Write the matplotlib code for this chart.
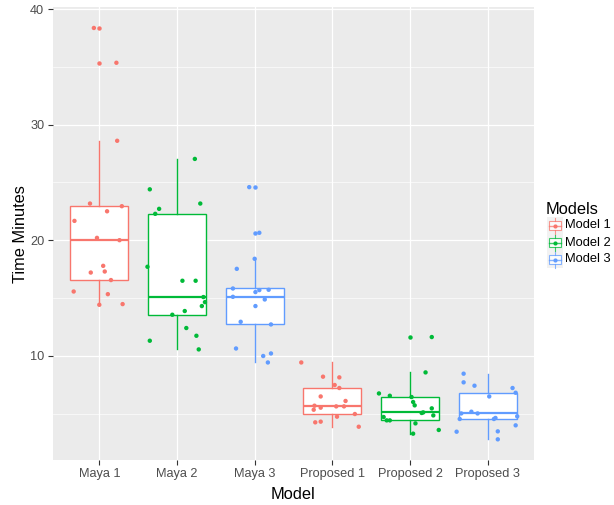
import matplotlib
matplotlib.use('Agg')
import matplotlib.pyplot as plt
from matplotlib.patches import Rectangle
from matplotlib.lines import Line2D
from matplotlib.ticker import FixedLocator

plt.rcParams['font.family'] = ['Liberation Sans', 'DejaVu Sans']

categories = ['Maya 1', 'Maya 2', 'Maya 3', 'Proposed 1', 'Proposed 2', 'Proposed 3']
group_model = ['Model 1', 'Model 2', 'Model 3', 'Model 1', 'Model 2', 'Model 3']
models = ['Model 1', 'Model 2', 'Model 3']
model_colors = ['#F8766D', '#00BA38', '#619CFF']

maya1 = [38.36, 35.35, 28.60, 23.17, 22.94, 22.50, 21.67, 20.20, 20.00, 17.78,
         17.20, 17.29, 16.55, 15.56, 15.33, 14.41, 14.47]
maya2 = [27.03, 24.40, 23.17, 22.71, 22.28, 17.70, 16.49, 16.49, 15.08, 14.64,
         14.30, 13.55, 13.87, 12.40, 11.73, 11.30, 10.55]
maya3 = [24.59, 20.64, 18.39, 17.52, 15.82, 15.68, 15.71, 15.51, 15.10, 14.87,
         14.30, 12.94, 12.71, 10.63, 10.20, 9.98, 9.42]
proposed1 = [9.42, 8.19, 8.13, 7.47, 7.21, 6.48, 6.09, 5.68, 5.51, 5.62,
             5.62, 5.33, 4.96, 4.73, 4.24, 4.30, 3.86]
proposed2 = [11.62, 8.56, 6.74, 6.54, 6.43, 6.00, 5.71, 5.45, 5.05, 5.10,
             4.84, 4.70, 4.41, 4.41, 4.15, 3.58, 3.26]
proposed3 = [8.45, 7.70, 7.41, 7.21, 6.80, 6.48, 5.01, 5.16, 5.01, 4.76,
             4.53, 4.53, 4.62, 3.98, 3.43, 3.46, 2.77]
series = [maya1, maya2, maya3, proposed1, proposed2, proposed3]

# horizontal jitter offsets (category units), as seen in the picture
jit1 = [-0.07, 0.22, 0.23, -0.12, 0.29, 0.10, -0.32, -0.03, 0.26, 0.05,
        -0.11, 0.07, 0.15, -0.33, 0.11, 0.00, 0.30]
jit2 = [0.23, -0.35, 0.30, -0.23, -0.28, -0.38, 0.07, 0.24, 0.34, 0.36,
        0.32, -0.06, 0.10, 0.12, 0.25, -0.35, 0.28]
jit3 = [-0.07, 0.06, 0.00, -0.23, -0.28, 0.06, 0.18, 0.01, -0.28, 0.13,
        0.01, -0.18, 0.21, -0.24, 0.21, 0.11, 0.17]
jit4 = [-0.40, -0.12, 0.09, 0.03, 0.09, -0.15, 0.17, -0.23, -0.15, 0.05,
        0.15, -0.24, 0.29, 0.06, -0.22, -0.15, 0.34]
jit5 = [0.28, 0.20, -0.40, -0.26, 0.02, 0.04, 0.06, 0.28, 0.15, 0.17,
        0.30, -0.34, -0.30, -0.26, 0.07, 0.37, 0.04]
jit6 = [-0.31, -0.31, -0.17, 0.32, 0.36, 0.02, -0.34, -0.21, -0.13, 0.38,
        -0.36, 0.08, 0.10, 0.36, -0.40, 0.13, 0.13]
jitters = [jit1, jit2, jit3, jit4, jit5, jit6]

W, H = 614, 505
fig = plt.figure(figsize=(W / 100, H / 100), dpi=100)
ax = fig.add_axes([52.7 / W, 1 - 459.9 / H, (534.3 - 52.7) / W, (459.9 - 7.4) / H])
ax.set_facecolor('#EBEBEB')
for s in ax.spines.values():
    s.set_visible(False)

positions = list(range(1, len(categories) + 1))
cmap = dict(zip(models, model_colors))

for i, (vals, jit) in enumerate(zip(series, jitters)):
    col = cmap[group_model[i]]
    ax.boxplot([vals], positions=[positions[i]], widths=0.75, whis=1.5,
               patch_artist=True, showcaps=False, manage_ticks=False,
               boxprops=dict(facecolor='white', edgecolor=col, linewidth=1.0),
               medianprops=dict(color=col, linewidth=1.6),
               whiskerprops=dict(color=col, linewidth=1.0),
               flierprops=dict(marker='o', markerfacecolor=col, markeredgewidth=0,
                               markersize=3.2, linestyle='none'),
               zorder=2)
    xs = [positions[i] + j for j in jit]
    ax.scatter(xs, vals, s=10, color=col, edgecolors='none', zorder=3)

allv = [v for s_ in series for v in s_]
lo, hi = min(allv), max(allv)
pad = (hi - lo) * 0.05
ax.set_ylim(lo - pad, hi + pad)
ax.set_xlim(0.4, len(categories) + 0.6)

ax.set_xticks(positions)
ax.set_xticklabels(categories)
ax.set_yticks([10, 20, 30, 40])
ax.yaxis.set_minor_locator(FixedLocator([5, 15, 25, 35]))
ax.grid(True, which='major', color='white', linewidth=0.9, zorder=0)
ax.grid(True, which='minor', axis='y', color='white', linewidth=0.45, zorder=0)
ax.set_axisbelow(True)
ax.tick_params(axis='both', which='major', length=3.5, width=0.8, color='#333333',
               labelcolor='#4D4D4D', labelsize=9.2, pad=2.5)
ax.tick_params(axis='y', which='minor', length=0)

ax.set_xlabel('Model', fontsize=11.8, color='black', labelpad=5)
ax.set_ylabel('Time Minutes', fontsize=11.8, color='black', labelpad=1.5)

# legend drawn in pixel coordinates
lax = fig.add_axes([0, 0, 1, 1])
lax.set_xlim(0, W)
lax.set_ylim(H, 0)
lax.axis('off')
lax.text(546, 209, 'Models', fontsize=11.8, va='center', ha='left')
key_y = [225.5, 242.5, 259.5]
for name, col, cy in zip(models, model_colors, key_y):
    lax.add_patch(Rectangle((546.5, cy - 8.5), 16.5, 17, facecolor='#F2F2F2',
                            edgecolor='none'))
    lax.add_patch(Rectangle((548.5, cy - 4.5), 12.5, 9, facecolor='white',
                            edgecolor=col, linewidth=0.8, alpha=0.75))
    lax.add_line(Line2D([548.5, 561], [cy, cy], color=col, linewidth=1.0, alpha=0.75))
    lax.add_line(Line2D([554.75, 554.75], [cy - 8, cy - 4.5], color=col, linewidth=0.8, alpha=0.75))
    lax.add_line(Line2D([554.75, 554.75], [cy + 4.5, cy + 8], color=col, linewidth=0.8, alpha=0.75))
    lax.plot([554.75], [cy], marker='o', markersize=3, color=col, markeredgecolor='none')
    lax.text(565, cy, name, fontsize=9.3, va='center', ha='left')

fig.savefig('out.png', dpi=100, facecolor='white')
